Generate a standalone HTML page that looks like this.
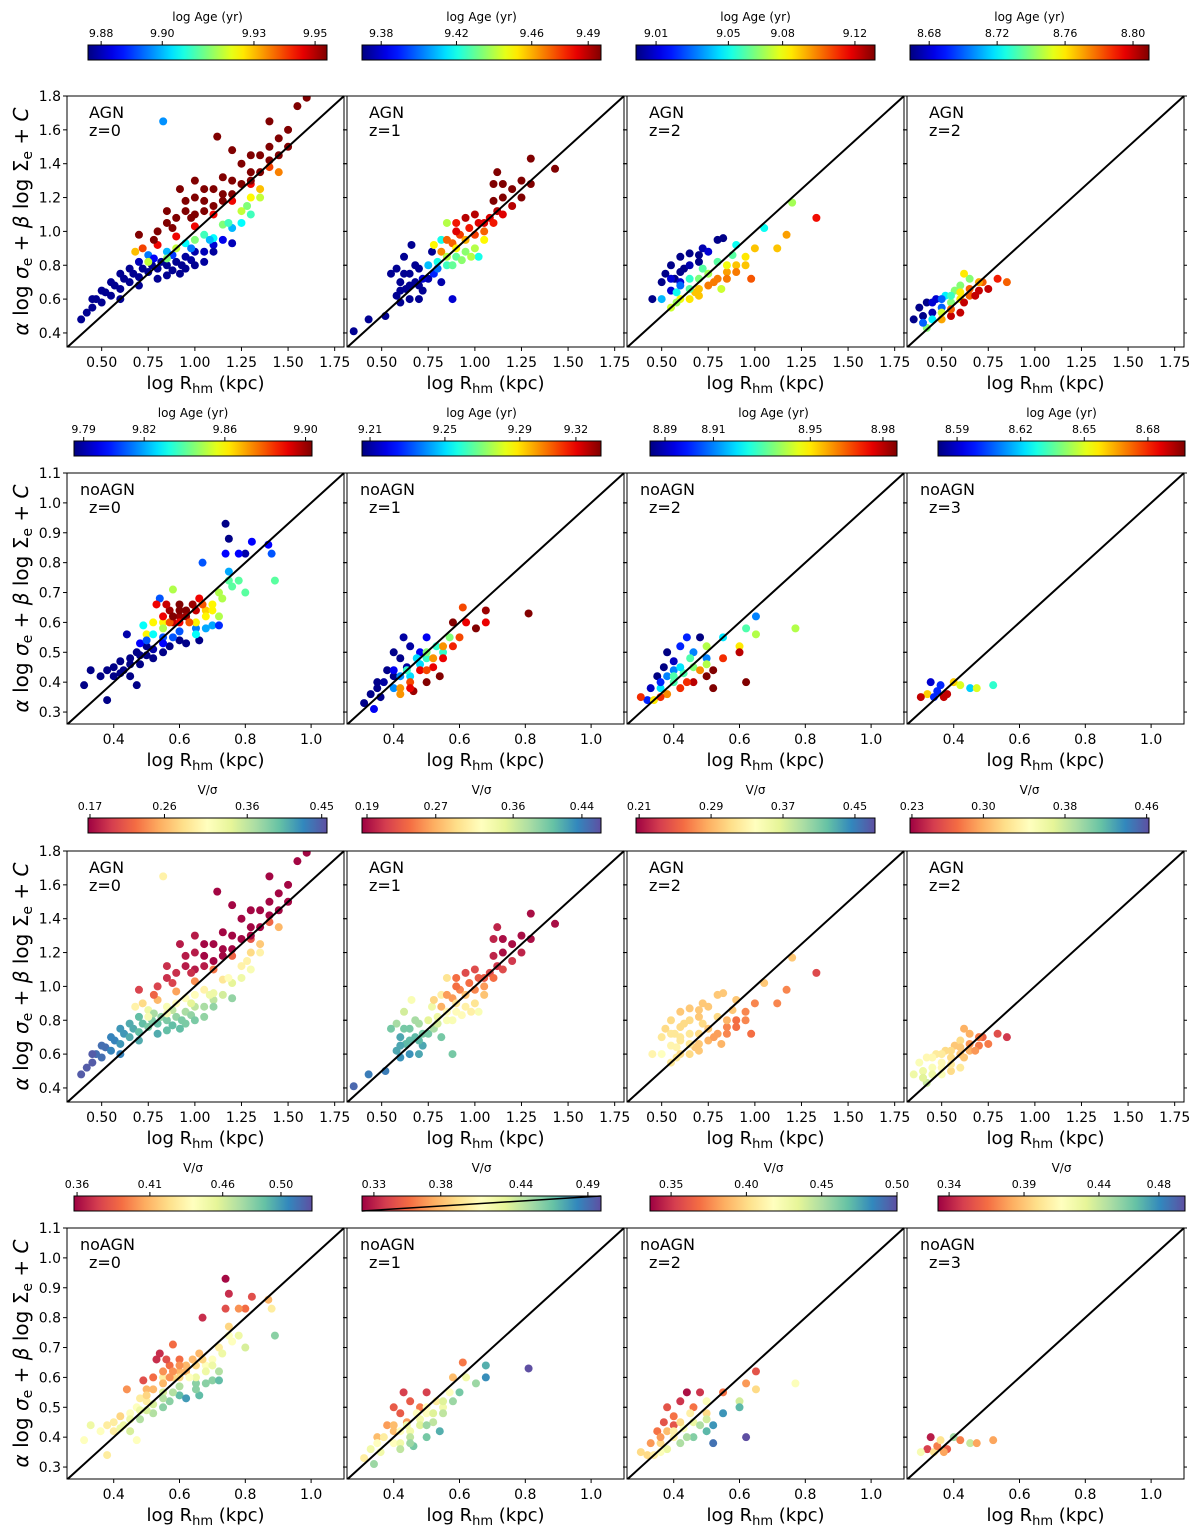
<!DOCTYPE html>
<html><head><meta charset="utf-8"><title>Scaling relation panels</title>
<style>
html,body{margin:0;padding:0;background:#fff;}
svg{display:block;font-family:"DejaVu Sans","Liberation Sans",sans-serif;}
</style></head>
<body>
<svg id="fig" width="1200" height="1535" viewBox="0 0 1200 1535" xmlns="http://www.w3.org/2000/svg"></svg>
<script>
// ---------- data: [logR, fpY, logAge, Vsigma] ----------
const agnZ0 = [[0.39,0.48,9.877,0.45],[0.42,0.52,9.877,0.45],[0.45,0.55,9.877,0.45],[0.47,0.6,9.877,0.44],[0.5,0.58,9.877,0.44],[0.52,0.64,9.877,0.44],[0.55,0.62,9.877,0.43],[0.57,0.68,9.877,0.43],[0.6,0.66,9.877,0.42],[0.62,0.72,9.877,0.42],[0.65,0.7,9.877,0.41],[0.67,0.75,9.877,0.41],[0.7,0.73,9.877,0.4],[0.72,0.78,9.877,0.4],[0.75,0.76,9.877,0.39],[0.77,0.8,9.877,0.39],[0.8,0.78,9.877,0.4],[0.82,0.82,9.877,0.38],[0.85,0.8,9.877,0.39],[0.88,0.77,9.877,0.4],[0.9,0.82,9.877,0.38],[0.93,0.8,9.877,0.39],[0.95,0.85,9.878,0.37],[0.98,0.83,9.878,0.38],[1.0,0.88,9.879,0.36],[1.05,0.88,9.88,0.37],[1.1,0.92,9.882,0.36],[1.15,0.95,9.884,0.35],[0.6,0.6,9.877,0.43],[0.7,0.68,9.877,0.41],[0.85,0.74,9.877,0.4],[0.95,0.78,9.877,0.39],[1.05,0.82,9.878,0.38],[1.2,0.93,9.88,0.38],[0.75,0.86,9.895,0.33],[0.85,0.88,9.9,0.32],[0.95,0.93,9.905,0.31],[1.05,0.98,9.91,0.3],[1.15,1.04,9.915,0.29],[1.25,1.12,9.92,0.3],[1.3,1.2,9.925,0.28],[1.35,1.25,9.93,0.27],[1.1,0.96,9.905,0.33],[1.2,1.02,9.9,0.34],[0.72,0.9,9.94,0.28],[0.8,0.92,9.945,0.26],[0.9,0.97,9.945,0.25],[1.0,1.03,9.945,0.24],[1.1,1.1,9.945,0.23],[1.2,1.18,9.945,0.22],[1.3,1.28,9.945,0.21],[1.4,1.38,9.94,0.22],[1.45,1.35,9.935,0.26],[0.7,0.98,9.954,0.2],[0.8,1.0,9.954,0.2],[0.85,1.05,9.954,0.19],[0.9,1.08,9.954,0.19],[0.95,1.12,9.954,0.18],[1.0,1.1,9.954,0.18],[1.05,1.18,9.954,0.17],[1.1,1.15,9.954,0.17],[1.1,1.25,9.954,0.17],[1.15,1.22,9.954,0.17],[1.2,1.3,9.954,0.17],[1.25,1.28,9.954,0.17],[1.25,1.4,9.954,0.17],[1.3,1.35,9.954,0.17],[1.35,1.45,9.954,0.17],[1.4,1.5,9.954,0.17],[1.45,1.55,9.954,0.17],[1.5,1.5,9.954,0.17],[1.5,1.6,9.954,0.17],[1.4,1.65,9.954,0.17],[1.2,1.48,9.954,0.17],[1.0,1.3,9.954,0.18],[1.12,1.56,9.954,0.17],[0.92,1.25,9.954,0.18],[1.55,1.74,9.954,0.17],[1.6,1.79,9.954,0.17],[1.0,1.2,9.954,0.18],[0.83,1.65,9.897,0.3],
[0.45,0.6,9.877,0.45],[0.5,0.65,9.877,0.44],[0.55,0.7,9.877,0.43],[0.6,0.75,9.877,0.42],[0.65,0.78,9.877,0.41],[0.7,0.82,9.88,0.4],[0.78,0.84,9.885,0.37],[0.88,0.86,9.89,0.36],[0.98,0.9,9.895,0.34],[1.08,0.95,9.9,0.33],[1.18,1.05,9.91,0.31],[1.28,1.15,9.915,0.3],[1.35,1.2,9.92,0.3],[0.78,0.95,9.954,0.22],[0.88,1.02,9.954,0.2],[0.98,1.08,9.954,0.19],[1.05,1.12,9.954,0.18],[1.15,1.18,9.954,0.17],[1.2,1.22,9.954,0.17],[1.3,1.3,9.954,0.17],[1.35,1.35,9.954,0.17],[1.4,1.42,9.954,0.17],[1.45,1.45,9.954,0.17],[1.05,1.25,9.954,0.17],[1.15,1.32,9.954,0.17],[0.95,1.18,9.954,0.18],[0.85,1.12,9.954,0.19],[1.3,1.45,9.954,0.17],[0.75,0.82,9.92,0.32],[0.85,0.84,9.915,0.32],[0.68,0.88,9.93,0.3],[0.9,0.9,9.92,0.31],[1.0,0.95,9.915,0.31],[1.25,1.05,9.905,0.33],[1.3,1.1,9.91,0.32],[0.92,0.75,9.877,0.4],[1.0,0.8,9.877,0.39],[1.1,0.88,9.878,0.38],[0.8,0.72,9.877,0.41]];
const agnZ1 = [[0.35,0.41,9.372,0.45],[0.43,0.48,9.372,0.44],[0.52,0.5,9.372,0.44],[0.58,0.62,9.372,0.42],[0.6,0.7,9.372,0.42],[0.63,0.66,9.372,0.41],[0.65,0.75,9.372,0.4],[0.68,0.7,9.372,0.41],[0.7,0.78,9.372,0.38],[0.62,0.85,9.372,0.36],[0.58,0.78,9.372,0.38],[0.66,0.92,9.372,0.33],[0.72,0.65,9.372,0.42],[0.75,0.72,9.375,0.4],[0.6,0.58,9.372,0.43],[0.55,0.75,9.372,0.4],[0.7,0.6,9.372,0.42],[0.82,0.7,9.375,0.4],[0.88,0.6,9.38,0.4],[0.77,0.88,9.372,0.34],[0.75,0.8,9.41,0.35],[0.8,0.82,9.42,0.34],[0.85,0.8,9.425,0.33],[0.9,0.85,9.43,0.32],[0.95,0.88,9.435,0.31],[1.0,0.9,9.44,0.3],[0.82,0.95,9.42,0.31],[0.85,1.05,9.44,0.3],[1.02,0.85,9.42,0.33],[0.82,0.88,9.465,0.27],[0.88,0.93,9.47,0.26],[0.92,0.98,9.475,0.25],[0.97,1.02,9.48,0.24],[1.02,1.05,9.485,0.23],[1.08,1.08,9.485,0.22],[1.12,1.12,9.49,0.21],[0.9,1.0,9.485,0.24],[1.0,1.1,9.49,0.22],[1.05,1.0,9.47,0.26],[1.1,1.18,9.497,0.2],[1.15,1.2,9.497,0.19],[1.2,1.25,9.497,0.19],[1.25,1.3,9.497,0.19],[1.3,1.28,9.497,0.19],[1.1,1.28,9.497,0.2],[1.3,1.43,9.497,0.19],[1.43,1.37,9.497,0.19],[1.12,1.35,9.497,0.2],
[0.6,0.65,9.372,0.42],[0.65,0.6,9.372,0.43],[0.68,0.8,9.372,0.38],[0.72,0.72,9.38,0.4],[0.65,0.68,9.372,0.41],[0.62,0.75,9.372,0.4],[0.7,0.68,9.372,0.41],[0.78,0.75,9.39,0.38],[0.8,0.78,9.4,0.36],[0.85,0.85,9.44,0.32],[0.9,0.9,9.45,0.3],[0.95,0.95,9.46,0.28],[0.88,0.8,9.43,0.33],[0.93,0.83,9.435,0.32],[0.98,0.85,9.44,0.31],[1.05,0.95,9.45,0.28],[1.0,0.98,9.475,0.25],[1.05,1.05,9.485,0.23],[1.1,1.05,9.48,0.24],[1.15,1.1,9.485,0.22],[0.85,0.95,9.47,0.26],[0.9,1.05,9.48,0.24],[0.95,1.08,9.49,0.22],[1.2,1.15,9.49,0.21],[1.15,1.28,9.497,0.19],[1.25,1.2,9.497,0.2],[0.78,0.92,9.45,0.29]];
const agnZ2 = [[0.45,0.6,9.0,0.33],[0.5,0.7,9.0,0.32],[0.52,0.75,9.0,0.31],[0.55,0.8,9.0,0.31],[0.57,0.72,9.0,0.32],[0.6,0.85,9.0,0.3],[0.62,0.78,9.0,0.31],[0.65,0.87,9.0,0.3],[0.7,0.82,9.0,0.3],[0.72,0.9,9.005,0.3],[0.8,0.95,9.0,0.3],[0.83,0.96,9.0,0.3],[0.6,0.7,9.01,0.32],[0.55,0.65,9.01,0.33],[0.5,0.6,9.04,0.34],[0.58,0.64,9.05,0.33],[0.65,0.72,9.055,0.32],[0.72,0.78,9.06,0.31],[0.8,0.82,9.06,0.31],[0.88,0.86,9.06,0.3],[1.05,1.02,9.05,0.3],[1.2,1.17,9.07,0.3],[0.6,0.6,9.08,0.31],[0.68,0.64,9.09,0.3],[0.75,0.68,9.1,0.29],[0.8,0.72,9.1,0.28],[0.85,0.76,9.095,0.27],[0.9,0.8,9.09,0.26],[0.95,0.85,9.085,0.27],[1.0,0.9,9.09,0.27],[0.55,0.55,9.075,0.32],[0.82,0.66,9.075,0.29],[1.12,0.9,9.09,0.27],[1.17,0.98,9.095,0.27],[1.33,1.08,9.115,0.24],[0.98,0.72,9.105,0.26],
[0.55,0.72,9.01,0.32],[0.6,0.76,9.0,0.31],[0.65,0.8,9.005,0.31],[0.7,0.86,9.0,0.3],[0.75,0.88,9.01,0.3],[0.6,0.68,9.03,0.32],[0.65,0.66,9.06,0.32],[0.7,0.72,9.065,0.31],[0.75,0.75,9.07,0.3],[0.85,0.8,9.08,0.29],[0.7,0.66,9.09,0.3],[0.78,0.7,9.1,0.28],[0.85,0.72,9.1,0.27],[0.9,0.76,9.1,0.26],[0.95,0.8,9.09,0.27],[0.65,0.6,9.085,0.31],[0.58,0.58,9.07,0.32],[0.9,0.92,9.05,0.3],[0.7,0.62,9.09,0.3]];
const agnZ2b = [[0.35,0.48,8.67,0.36],[0.38,0.55,8.67,0.35],[0.4,0.5,8.67,0.36],[0.42,0.58,8.67,0.34],[0.45,0.52,8.675,0.35],[0.47,0.6,8.68,0.33],[0.5,0.55,8.7,0.34],[0.52,0.62,8.72,0.32],[0.55,0.58,8.74,0.32],[0.57,0.65,8.74,0.31],[0.6,0.6,8.76,0.31],[0.6,0.68,8.74,0.32],[0.65,0.62,8.78,0.3],[0.65,0.72,8.74,0.3],[0.7,0.65,8.8,0.28],[0.72,0.7,8.78,0.27],[0.75,0.66,8.8,0.28],[0.8,0.72,8.79,0.26],[0.85,0.7,8.78,0.25],[0.55,0.5,8.8,0.32],[0.6,0.52,8.8,0.33],[0.5,0.48,8.77,0.35],[0.42,0.43,8.74,0.38],[0.62,0.75,8.76,0.3],
[0.45,0.58,8.68,0.34],[0.5,0.6,8.7,0.33],[0.55,0.62,8.73,0.32],[0.6,0.64,8.76,0.31],[0.65,0.66,8.78,0.29],[0.7,0.7,8.77,0.28],[0.4,0.46,8.7,0.37],[0.45,0.48,8.72,0.36],[0.5,0.52,8.75,0.34],[0.55,0.54,8.78,0.33],[0.62,0.58,8.8,0.31],[0.68,0.62,8.8,0.29]];
const noZ0 = [[0.31,0.39,9.786,0.44],[0.33,0.44,9.786,0.45],[0.36,0.42,9.786,0.44],[0.38,0.44,9.786,0.43],[0.38,0.34,9.786,0.43],[0.4,0.42,9.786,0.43],[0.42,0.47,9.786,0.42],[0.43,0.44,9.786,0.45],[0.45,0.48,9.786,0.44],[0.45,0.42,9.786,0.46],[0.47,0.5,9.786,0.44],[0.48,0.46,9.786,0.47],[0.5,0.52,9.786,0.43],[0.52,0.48,9.786,0.47],[0.55,0.5,9.786,0.48],[0.57,0.52,9.786,0.48],[0.6,0.54,9.786,0.49],[0.62,0.53,9.786,0.5],[0.47,0.39,9.786,0.44],[0.66,0.54,9.786,0.49],[0.48,0.53,9.8,0.43],[0.55,0.55,9.81,0.46],[0.6,0.57,9.81,0.47],[0.65,0.58,9.815,0.48],[0.7,0.59,9.82,0.48],[0.72,0.59,9.805,0.49],[0.44,0.56,9.79,0.4],[0.49,0.59,9.83,0.38],[0.54,0.68,9.81,0.37],[0.5,0.56,9.86,0.41],[0.55,0.6,9.86,0.43],[0.65,0.6,9.86,0.45],[0.68,0.64,9.865,0.44],[0.7,0.66,9.86,0.44],[0.72,0.7,9.85,0.43],[0.76,0.72,9.84,0.44],[0.78,0.74,9.84,0.45],[0.8,0.7,9.84,0.46],[0.72,0.62,9.85,0.47],[0.89,0.74,9.84,0.48],[0.58,0.71,9.85,0.39],[0.55,0.62,9.89,0.4],[0.57,0.64,9.9,0.39],[0.6,0.62,9.9,0.41],[0.6,0.66,9.903,0.39],[0.62,0.64,9.903,0.41],[0.64,0.66,9.9,0.41],[0.66,0.68,9.89,0.41],[0.58,0.6,9.895,0.42],[0.53,0.66,9.89,0.37],[0.74,0.93,9.786,0.36],[0.75,0.88,9.786,0.37],[0.74,0.83,9.8,0.38],[0.8,0.83,9.79,0.39],[0.82,0.87,9.8,0.38],[0.87,0.86,9.8,0.41],[0.88,0.83,9.81,0.43],[0.67,0.8,9.81,0.37],[0.78,0.83,9.8,0.4],[0.75,0.77,9.82,0.42],
[0.4,0.45,9.786,0.43],[0.42,0.43,9.786,0.45],[0.45,0.46,9.786,0.45],[0.48,0.49,9.786,0.45],[0.5,0.49,9.786,0.46],[0.52,0.51,9.79,0.46],[0.55,0.53,9.8,0.47],[0.58,0.55,9.81,0.47],[0.5,0.54,9.81,0.42],[0.52,0.56,9.83,0.41],[0.55,0.58,9.85,0.41],[0.57,0.6,9.88,0.4],[0.6,0.6,9.89,0.42],[0.62,0.62,9.9,0.41],[0.63,0.6,9.88,0.44],[0.58,0.62,9.903,0.4],[0.6,0.64,9.903,0.4],[0.65,0.64,9.895,0.42],[0.67,0.66,9.88,0.42],[0.68,0.62,9.86,0.45],[0.7,0.64,9.86,0.45],[0.73,0.68,9.85,0.45],[0.75,0.74,9.84,0.44],[0.56,0.66,9.895,0.38],[0.52,0.6,9.86,0.39],[0.65,0.56,9.83,0.48],[0.68,0.58,9.82,0.48]];
const noZ1 = [[0.31,0.33,9.207,0.4],[0.33,0.36,9.207,0.42],[0.35,0.4,9.207,0.38],[0.36,0.35,9.207,0.42],[0.38,0.44,9.207,0.37],[0.4,0.42,9.207,0.38],[0.42,0.48,9.207,0.35],[0.44,0.45,9.21,0.37],[0.45,0.52,9.21,0.35],[0.48,0.5,9.22,0.36],[0.4,0.5,9.207,0.35],[0.5,0.55,9.22,0.34],[0.43,0.55,9.21,0.34],[0.34,0.31,9.22,0.45],[0.4,0.38,9.24,0.41],[0.45,0.42,9.25,0.42],[0.48,0.46,9.25,0.42],[0.5,0.48,9.26,0.41],[0.53,0.52,9.26,0.4],[0.55,0.5,9.26,0.42],[0.57,0.55,9.27,0.41],[0.42,0.38,9.3,0.42],[0.45,0.4,9.31,0.44],[0.48,0.44,9.32,0.43],[0.52,0.45,9.32,0.44],[0.55,0.48,9.32,0.44],[0.58,0.52,9.315,0.45],[0.6,0.55,9.31,0.46],[0.62,0.6,9.32,0.42],[0.58,0.6,9.333,0.38],[0.65,0.58,9.333,0.45],[0.5,0.4,9.333,0.46],[0.54,0.42,9.333,0.47],[0.46,0.37,9.33,0.46],[0.61,0.65,9.31,0.36],[0.81,0.63,9.333,0.5],[0.68,0.6,9.32,0.48],[0.68,0.64,9.33,0.47],
[0.35,0.38,9.207,0.41],[0.37,0.4,9.21,0.4],[0.4,0.44,9.22,0.38],[0.42,0.42,9.24,0.41],[0.44,0.44,9.26,0.42],[0.47,0.48,9.25,0.41],[0.5,0.5,9.27,0.41],[0.52,0.48,9.3,0.43],[0.5,0.44,9.31,0.45],[0.55,0.52,9.3,0.43],[0.45,0.38,9.32,0.45],[0.42,0.36,9.3,0.44]];
const noZ2 = [[0.32,0.34,8.9,0.4],[0.33,0.38,8.89,0.38],[0.35,0.42,8.884,0.37],[0.37,0.45,8.884,0.36],[0.38,0.5,8.884,0.36],[0.4,0.47,8.89,0.37],[0.42,0.52,8.9,0.35],[0.44,0.55,8.9,0.34],[0.46,0.5,8.91,0.37],[0.48,0.55,8.884,0.35],[0.5,0.48,8.91,0.4],[0.36,0.38,8.92,0.4],[0.4,0.4,8.93,0.41],[0.43,0.43,8.93,0.42],[0.46,0.45,8.935,0.43],[0.5,0.46,8.94,0.44],[0.34,0.34,8.95,0.41],[0.38,0.36,8.96,0.43],[0.42,0.38,8.97,0.45],[0.46,0.4,8.98,0.46],[0.5,0.42,8.986,0.47],[0.52,0.44,8.986,0.48],[0.55,0.48,8.97,0.48],[0.6,0.52,8.95,0.44],[0.62,0.58,8.93,0.38],[0.65,0.56,8.94,0.4],[0.65,0.62,8.91,0.36],[0.6,0.5,8.98,0.47],[0.62,0.4,8.986,0.5],[0.52,0.38,8.986,0.49],[0.77,0.58,8.94,0.42],[0.55,0.55,8.92,0.37],[0.4,0.44,8.91,0.36],[0.3,0.35,8.97,0.4],
[0.36,0.4,8.9,0.38],[0.38,0.42,8.91,0.39],[0.4,0.42,8.93,0.41],[0.42,0.45,8.92,0.4],[0.45,0.48,8.93,0.41],[0.48,0.44,8.96,0.45],[0.44,0.4,8.97,0.45],[0.36,0.35,8.97,0.42],[0.5,0.52,8.94,0.42]];
const noZ3 = [[0.32,0.36,8.66,0.35],[0.33,0.4,8.59,0.34],[0.34,0.35,8.6,0.4],[0.35,0.37,8.6,0.37],[0.36,0.39,8.6,0.4],[0.38,0.36,8.69,0.36],[0.4,0.4,8.66,0.45],[0.42,0.39,8.65,0.37],[0.45,0.38,8.62,0.44],[0.47,0.38,8.65,0.38],[0.52,0.39,8.63,0.38],[0.3,0.35,8.69,0.42],[0.37,0.35,8.69,0.38]];

// colour-bar limits and tick labels
const cbMin = [[9.8757,9.3698,8.9989,8.6687],[9.7852,9.2057,8.8838,8.5810],[0.1676,0.1842,0.2065,0.2281],[0.3579,0.3211,0.3360,0.3326]];
const cbMax = [[9.9539,9.4968,9.1311,8.8094],[9.9032,9.3334,8.9858,8.6975],[0.4564,0.4622,0.4723,0.4623],[0.5213,0.4998,0.5000,0.4974]];
const cbTicks = [[[9.88,9.90,9.93,9.95],[9.38,9.42,9.46,9.49],[9.01,9.05,9.08,9.12],[8.68,8.72,8.76,8.80]],
 [[9.79,9.82,9.86,9.90],[9.21,9.25,9.29,9.32],[8.89,8.91,8.95,8.98],[8.59,8.62,8.65,8.68]],
 [[0.17,0.26,0.36,0.45],[0.19,0.27,0.36,0.44],[0.21,0.29,0.37,0.45],[0.23,0.30,0.38,0.46]],
 [[0.36,0.41,0.46,0.50],[0.33,0.38,0.44,0.49],[0.35,0.40,0.45,0.50],[0.34,0.39,0.44,0.48]]];
const agnYTicks = [0.4,0.6,0.8,1.0,1.2,1.4,1.6,1.8];
const agnXTicks = [0.50,0.75,1.00,1.25,1.50,1.75];
const noYTicks = [0.3,0.4,0.5,0.6,0.7,0.8,0.9,1.0,1.1];
const noXTicks = [0.4,0.6,0.8,1.0];
const rowData = [[agnZ0,agnZ1,agnZ2,agnZ2b],[noZ0,noZ1,noZ2,noZ3],[agnZ0,agnZ1,agnZ2,agnZ2b],[noZ0,noZ1,noZ2,noZ3]];
const rowZ = [["0","1","2","2"],["0","1","2","3"],["0","1","2","2"],["0","1","2","3"]];

// ---------- layout ----------
const NS="http://www.w3.org/2000/svg";
const svg=document.getElementById('fig');
const axTop=[96,473,851,1228], axH=251, axL=[67,347,627,907], axW=277;
const cbY=[45,441,818,1196], cbH=15;
const cbX=[[[88,327],[362,601],[636,875],[910,1149]],[[74,312],[362,601],[650,897],[938,1185]]];
const jet=[[0,'#000080'],[0.11,'#0000f0'],[0.125,'#0000ff'],[0.34,'#00d4ff'],[0.375,'#0ff'],[0.5,'#7dff7a'],[0.625,'#ff0'],[0.66,'#ffe000'],[0.89,'#f00000'],[1,'#800000']];
const spectral=[[0,'#9e0142'],[0.1,'#d53e4f'],[0.2,'#f46d43'],[0.3,'#fdae61'],[0.4,'#fee08b'],[0.5,'#ffffbf'],[0.6,'#e6f598'],[0.7,'#abdda4'],[0.8,'#66c2a5'],[0.9,'#3288bd'],[1,'#5e4fa2']];
function hex(c){c=c.replace('#','');if(c.length===3)c=c.split('').map(d=>d+d).join('');return [0,2,4].map(i=>parseInt(c.substr(i,2),16));}
function cmap(stops,t){t=Math.max(0,Math.min(1,t));for(let i=1;i<stops.length;i++){if(t<=stops[i][0]){const a=stops[i-1],b=stops[i];const f=(t-a[0])/(b[0]-a[0]||1);const A=hex(a[1]),B=hex(b[1]);return 'rgb('+A.map((v,k)=>Math.round(v+(B[k]-v)*f)).join(',')+')';}}return stops[stops.length-1][1];}
function el(tag,attrs,parent){const e=document.createElementNS(NS,tag);for(const k in attrs)e.setAttribute(k,attrs[k]);(parent||svg).appendChild(e);return e;}
function txt(s,x,y,size,anchor,parent){const t=el('text',{x:x,y:y,'font-size':size,'text-anchor':anchor||'middle',fill:'#000'},parent);t.textContent=s;return t;}
const defs=el('defs',{});

for(let r=0;r<4;r++){
  const isAgn=(r%2===0), isAge=(r<2);
  const xr=isAgn?[0.314,1.80]:[0.258,1.10], yr=isAgn?[0.317,1.80]:[0.26,1.10];
  const xt=isAgn?agnXTicks:noXTicks, yt=isAgn?agnYTicks:noYTicks;
  const stops=isAge?jet:spectral;
  for(let c=0;c<4;c++){
    const L=axL[c],T=axTop[r];
    const sx=v=>L+(v-xr[0])/(xr[1]-xr[0])*axW;
    const sy=v=>T+axH-(v-yr[0])/(yr[1]-yr[0])*axH;
    const cb=el('g',{});
    
    
    const [bx0,bx1]=cbX[r%2][c], by=cbY[r];
    const gid='g'+r+c;
    const lg=el('linearGradient',{id:gid,x1:0,x2:1,y1:0,y2:0},defs);
    for(let i=0;i<=20;i++)el('stop',{offset:i/20,'stop-color':cmap(stops,i/20)},lg);
    el('rect',{x:bx0,y:by,width:bx1-bx0,height:cbH,fill:'url(#'+gid+')',stroke:'#000','stroke-width':1},cb);
    if(r===3&&c===1)el('line',{x1:bx0,y1:by+cbH,x2:bx1,y2:by,stroke:'#000','stroke-width':1.5},cb);
    const vmin=cbMin[r][c],vmax=cbMax[r][c];
    cbTicks[r][c].forEach(v=>{const x=bx0+(v-vmin)/(vmax-vmin)*(bx1-bx0);el('line',{x1:x,y1:by,x2:x,y2:by-4,stroke:'#000'},cb);const t=txt(v.toFixed(2),x,by-8,11,'middle',cb);});
    const ttl=txt(isAge?'log Age (yr)':'V/σ',(bx0+bx1)/2,by-24,12,'middle',cb);
    
    
    const g=el('g',{});
    
    
    const cid='clip'+r+c;
    const cp=el('clipPath',{id:cid},defs);el('rect',{x:L,y:T,width:axW,height:axH},cp);
    const pts=el('g',{'clip-path':'url(#'+cid+')'},g);
    
    
    rowData[r][c].forEach(p=>{
      const val=isAge?p[2]:p[3];
      const d=el('circle',{cx:sx(p[0]),cy:sy(p[1]),r:4,fill:cmap(stops,(val-vmin)/(vmax-vmin))},pts);
      
      
    });
    const lo=Math.max(xr[0],yr[0]),hi=Math.min(xr[1],yr[1]);
    const ln=el('line',{x1:sx(lo),y1:sy(lo),x2:sx(hi),y2:sy(hi),stroke:'#000','stroke-width':2},g);
    
    
    el('rect',{x:L,y:T,width:axW,height:axH,fill:'none',stroke:'#000','stroke-width':1},g);
    yt.forEach(v=>{const y=sy(v);el('line',{x1:L-4,y1:y,x2:L,y2:y,stroke:'#000'},g);el('line',{x1:L+axW,y1:y,x2:L+axW+3,y2:y,stroke:'#000'},g);
      if(c===0){const t=txt(v.toFixed(1),L-6,y+5,14,'end',g);}});
    xt.forEach(v=>{const x=sx(v);el('line',{x1:x,y1:T+axH,x2:x,y2:T+axH+4,stroke:'#000'},g);
      const t=txt(isAgn?v.toFixed(2):v.toFixed(1),x,T+axH+20,14,'middle',g);});
    const xl=el('text',{x:L+axW/2,y:T+axH+42,'font-size':18,'text-anchor':'middle'},g);
    
    
    xl.innerHTML='log R<tspan font-size="13" dy="4">hm</tspan><tspan dy="-4"> (kpc)</tspan>';
    const n1=txt(isAgn?'AGN':'noAGN',L+(isAgn?22:13),T+22,16,'start',g);
    
    
    const n2=txt('z='+rowZ[r][c],L+22,T+40,16,'start',g);
    
    
    if(c===0){
      const yl=el('text',{x:0,y:0,'font-size':20,'text-anchor':'middle',transform:'translate(28,'+(T+axH/2)+') rotate(-90)'},g);
      
      
      yl.innerHTML='<tspan font-style="italic">α</tspan> log <tspan font-style="italic">σ</tspan><tspan font-size="14" dy="4">e</tspan><tspan dy="-4"> + </tspan><tspan font-style="italic">β</tspan> log Σ<tspan font-size="14" dy="4">e</tspan><tspan dy="-4"> + </tspan><tspan font-style="italic">C</tspan>';
    }
  }
}
</script>
</body></html>
